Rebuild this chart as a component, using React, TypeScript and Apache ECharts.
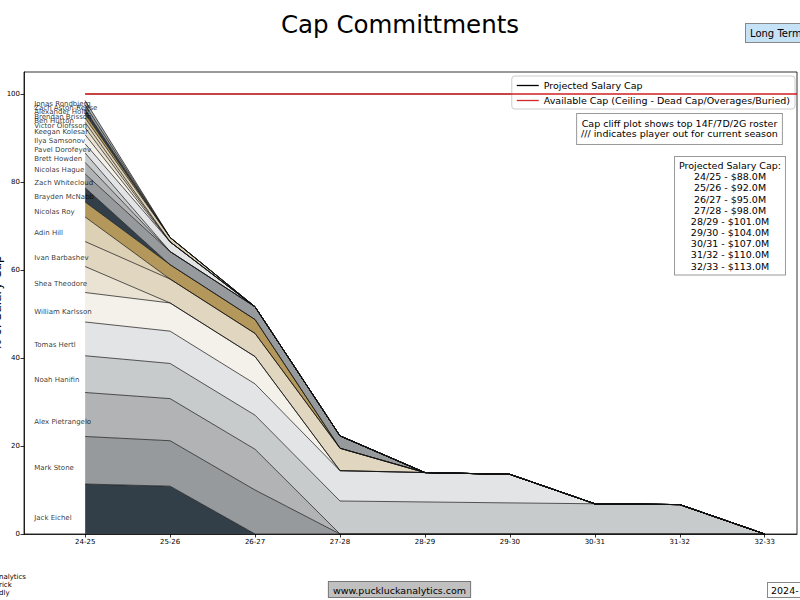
import React, { useEffect, useRef } from "react";
import * as echarts from "echarts";

// ---- Data ----
const seasons = ["24-25", "25-26", "26-27", "27-28", "28-29", "29-30", "30-31", "31-32", "32-33"];
const projectedCapM = [88.0, 92.0, 95.0, 98.0, 101.0, 104.0, 107.0, 110.0, 113.0];
const projectedCapPct = [100, 100, 100, 100, 100, 100, 100, 100, 100];
const availableCapPct = [100, 100, 100, 100, 100, 100, 100, 100, 100];

// % of salary cap per season (bottom of stack first)
const eichel = [11.36, 10.87, 0, 0, 0, 0, 0, 0, 0];
const stone = [10.8, 10.33, 10.0, 0, 0, 0, 0, 0, 0];
const pietrangelo = [10.0, 9.57, 9.26, 0, 0, 0, 0, 0, 0];
const hanifin = [8.35, 7.99, 7.74, 7.5, 7.28, 7.07, 6.87, 6.68, 0];
const hertl = [7.67, 7.34, 7.11, 6.89, 6.68, 6.49, 0, 0, 0];
const karlsson = [6.7, 6.41, 6.21, 0, 0, 0, 0, 0, 0];
const theodore = [5.91, 0, 0, 0, 0, 0, 0, 0, 0];
const barbashev = [5.68, 5.43, 5.26, 5.1, 0, 0, 0, 0, 0];
const hill = [5.57, 0, 0, 0, 0, 0, 0, 0, 0];
const roy = [3.41, 3.26, 3.16, 0, 0, 0, 0, 0, 0];
const mcnabb = [3.24, 0, 0, 0, 0, 0, 0, 0, 0];
const whitecloud = [3.13, 2.99, 2.89, 2.81, 0, 0, 0, 0, 0];
const hague = [2.61, 0, 0, 0, 0, 0, 0, 0, 0];
const howden = [2.16, 0, 0, 0, 0, 0, 0, 0, 0];
const dorofeyev = [2.09, 2.2, 0, 0, 0, 0, 0, 0, 0];
const samsonov = [2.05, 0, 0, 0, 0, 0, 0, 0, 0];
const kolesar = [1.59, 0, 0, 0, 0, 0, 0, 0, 0];
const olofsson = [1.22, 0, 0, 0, 0, 0, 0, 0, 0];
const hutton = [0.98, 1.0, 0, 0, 0, 0, 0, 0, 0];
const brisson = [0.98, 0, 0, 0, 0, 0, 0, 0, 0];
const holtz = [1.02, 0, 0, 0, 0, 0, 0, 0, 0];
const astonReese = [0.98, 0, 0, 0, 0, 0, 0, 0, 0];
const rondbjerg = [1.0, 0, 0, 0, 0, 0, 0, 0, 0];

const players: [string, number[]][] = [
  ["Jack Eichel", eichel],
  ["Mark Stone", stone],
  ["Alex Pietrangelo", pietrangelo],
  ["Noah Hanifin", hanifin],
  ["Tomas Hertl", hertl],
  ["William Karlsson", karlsson],
  ["Shea Theodore", theodore],
  ["Ivan Barbashev", barbashev],
  ["Adin Hill", hill],
  ["Nicolas Roy", roy],
  ["Brayden McNabb", mcnabb],
  ["Zach Whitecloud", whitecloud],
  ["Nicolas Hague", hague],
  ["Brett Howden", howden],
  ["Pavel Dorofeyev", dorofeyev],
  ["Ilya Samsonov", samsonov],
  ["Keegan Kolesar", kolesar],
  ["Victor Olofsson", olofsson],
  ["Ben Hutton", hutton],
  ["Brendan Brisson", brisson],
  ["Alexander Holtz", holtz],
  ["Zach Aston-Reese", astonReese],
  ["Jonas Rondbjerg", rondbjerg],
];

const palette = [
  "#333F48", "#979A9C", "#B1B3B4", "#C8CBCC", "#E3E4E5",
  "#F4F0EA", "#EAE2D2", "#E1D6BF", "#DCD0B5", "#B4975A",
];

const FONT = "DejaVu Sans";
const X_MIN = -0.72;
const X_MAX = 8.38;
const LABEL_X = -0.6;
const LABEL_FRACTION = 0.33; // where, inside its band, each name sits

export default function App() {
  const ref = useRef<HTMLDivElement>(null);

  useEffect(() => {
    if (!ref.current) return;
    const chart = echarts.init(ref.current, undefined, { renderer: "svg" });

    // data stored as [value, seasonIndex] so that ECharts stacks the value dimension
    const stackSeries = players.map(([name, vals], i) => ({
      name,
      type: "line",
      stack: "cap",
      symbol: "none",
      dimensions: ["pct", "season"],
      encode: { x: 1, y: 0 },
      data: vals.map((v, j) => [v, j]),
      lineStyle: { color: "#111", width: 0.7 },
      areaStyle: { color: palette[i % palette.length], opacity: 1 },
      z: 2,
    }));

    // label positions inside each band in the first season
    let cum = 0;
    const labelData = players.map(([name, vals]) => {
      const pos = cum + vals[0] * LABEL_FRACTION;
      cum += vals[0];
      return [LABEL_X, pos, name];
    });

    const capText =
      "Projected Salary Cap:\n" +
      seasons.map((s, i) => `${s.replace("-", "/")} - $${projectedCapM[i].toFixed(1)}M`).join("\n");

    const option: any = {
      animation: false,
      backgroundColor: "#fff",
      textStyle: { fontFamily: FONT },
      title: {
        text: "Cap Committments",
        left: "center",
        top: 7,
        textStyle: { fontFamily: FONT, fontSize: 24.5, fontWeight: "normal", color: "#000" },
      },
      grid: {
        left: 24,
        right: 3,
        top: 72,
        bottom: 66,
        show: true,
        borderColor: "#000",
        borderWidth: 0.8,
        backgroundColor: "transparent",
        outerBoundsMode: "none",
        containLabel: false,
      },
      legend: {
        data: [
          { name: "Projected Salary Cap", icon: "rect", itemStyle: { color: "#000" } },
          { name: "Available Cap (Ceiling - Dead Cap/Overages/Buried)", icon: "rect", itemStyle: { color: "#D62728" } },
        ],
        orient: "vertical",
        right: 5,
        top: 76,
        itemWidth: 22,
        itemHeight: 1.3,
        itemGap: 4,
        padding: [4, 5, 3, 5],
        borderColor: "#ccc",
        borderWidth: 1,
        borderRadius: 3,
        backgroundColor: "rgba(255,255,255,0.8)",
        textStyle: { fontFamily: FONT, fontSize: 9.5, color: "#000", lineHeight: 11 },
      },
      xAxis: {
        type: "value",
        min: X_MIN,
        max: X_MAX,
        splitLine: { show: false },
        axisLine: { show: true, onZero: false, lineStyle: { color: "#000", width: 0.8 } },
        axisTick: {
          show: true,
          length: 3.5,
          lineStyle: { color: "#000", width: 0.8 },
          customValues: seasons.map((_, i) => i),
        },
        axisLabel: {
          customValues: seasons.map((_, i) => i),
          formatter: (v: number) => seasons[Math.round(v)] ?? "",
          fontSize: 7,
          color: "#000",
          fontFamily: FONT,
          margin: 4,
        },
      },
      yAxis: {
        type: "value",
        min: 0,
        max: 105,
        interval: 20,
        name: "% of Salary Cap",
        nameLocation: "middle",
        nameGap: 21,
        nameMoveOverlap: false,
        nameTextStyle: { fontFamily: FONT, fontSize: 12, color: "#000" },
        splitLine: { show: false },
        axisLine: { show: true, onZero: false, lineStyle: { color: "#000", width: 0.8 } },
        axisTick: { show: true, length: 3.5, lineStyle: { color: "#000", width: 0.8 } },
        axisLabel: { fontSize: 7, color: "#000", fontFamily: FONT, margin: 4, showMaxLabel: false },
      },
      series: [
        ...stackSeries,
        {
          name: "Projected Salary Cap",
          type: "line",
          symbol: "none",
          data: [...projectedCapPct.map((v, i) => [i, v]), [X_MAX, projectedCapPct[projectedCapPct.length - 1]]],
          lineStyle: { color: "#000", width: 0.8 },
          itemStyle: { color: "#000" },
          z: 3,
        },
        {
          name: "Available Cap (Ceiling - Dead Cap/Overages/Buried)",
          type: "line",
          symbol: "none",
          data: [...availableCapPct.map((v, i) => [i, v]), [X_MAX, availableCapPct[availableCapPct.length - 1]]],
          lineStyle: { color: "#D62728", width: 1.5 },
          itemStyle: { color: "#D62728" },
          z: 4,
        },
        {
          name: "labels",
          type: "scatter",
          symbolSize: 0,
          data: labelData,
          z: 5,
          silent: true,
          label: {
            show: true,
            position: "right",
            distance: 0,
            formatter: (p: any) => p.data[2],
            fontSize: 7,
            fontFamily: FONT,
            color: "#000",
          },
        },
      ],
      graphic: [
        {
          type: "text",
          x: 746,
          y: 24,
          style: {
            text: "Long Term",
            font: `10px "${FONT}"`,
            fill: "#000",
            backgroundColor: "#C6E2F6",
            borderColor: "#888",
            borderWidth: 1,
            padding: [4, 12, 4, 4],
          },
        },
        {
          type: "text",
          x: 679.5,
          y: 114,
          style: {
            text: "Cap cliff plot shows top 14F/7D/2G roster\n/// indicates player out for current season",
            font: `9.5px "${FONT}"`,
            fill: "#000",
            align: "center",
            verticalAlign: "top",
            lineHeight: 10.5,
            backgroundColor: "#fff",
            borderColor: "#999",
            borderWidth: 1,
            padding: [4, 4, 5, 4],
          },
        },
        {
          type: "text",
          x: 730,
          y: 157,
          style: {
            text: capText,
            font: `9.5px "${FONT}"`,
            fill: "#000",
            align: "center",
            verticalAlign: "top",
            lineHeight: 11.16,
            backgroundColor: "#fff",
            borderColor: "#999",
            borderWidth: 1,
            padding: [3, 4, 3, 4],
          },
        },
        {
          type: "text",
          x: 399.5,
          y: 582,
          style: {
            text: "www.puckluckanalytics.com",
            font: `9.5px "${FONT}"`,
            fill: "#000",
            align: "center",
            verticalAlign: "top",
            backgroundColor: "#C0C0C0",
            borderColor: "#777",
            borderWidth: 1,
            padding: [3, 4, 2, 4],
          },
        },
        {
          type: "text",
          x: 768,
          y: 583,
          style: {
            text: "2024-",
            font: `9.5px "${FONT}"`,
            fill: "#000",
            verticalAlign: "top",
            backgroundColor: "#fff",
            borderColor: "#888",
            borderWidth: 1,
            padding: [2, 12, 2, 3],
          },
        },
        {
          type: "text",
          x: -1,
          y: 573,
          style: {
            text: "nalytics\nrick\ndly",
            font: `7px "${FONT}"`,
            fill: "#000",
            verticalAlign: "top",
            lineHeight: 8,
          },
        },
      ],
    };

    chart.setOption(option);
    return () => chart.dispose();
  }, []);

  return (
    <div
      ref={ref}
      style={{ position: "fixed", left: 0, top: 0, width: 800, height: 600, background: "#fff" }}
    />
  );
}
